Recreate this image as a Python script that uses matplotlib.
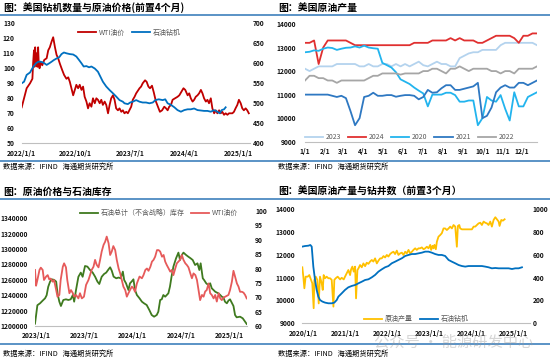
import pandas as pd
import matplotlib.pyplot as plt
from matplotlib.lines import Line2D
from matplotlib.ticker import FuncFormatter

plt.rcParams['font.family'] = ['Noto Sans CJK SC', 'DejaVu Sans']

# ---- 图1：美国钻机数量与原油价格(前置4个月)  日期 = 2022-01-01 + 天数
p1_start = '2022-01-01'
p1_wti_day = [0, 12, 25, 42, 54, 58, 62, 65, 68, 72, 76, 79, 83, 86, 90, 95, 104, 114, 126, 134,
              142, 151, 159, 168, 176, 184, 193, 204, 214, 226, 235, 243, 251, 260, 268, 276, 285,
              293, 302, 310, 318, 327, 335, 343, 352, 360, 369, 377, 385, 394, 402, 410, 419, 427,
              436, 444, 452, 461, 469, 477, 486, 494, 503, 511, 519, 528, 536, 544, 553, 561, 570,
              578, 595, 603, 611, 623, 631, 640, 648, 658, 667, 678, 688, 698, 709, 720, 729, 737,
              745, 754, 762, 774, 787, 796, 807, 817, 826, 838, 846, 854, 863, 871, 879, 888, 896,
              905, 913, 921, 930, 938, 946, 955, 963, 972, 980, 988, 997, 1005, 1013, 1022, 1030,
              1039, 1047, 1064, 1072, 1080, 1089, 1097, 1106, 1114, 1122, 1131, 1139, 1147]
p1_wti = [74, 80, 86.7, 90, 93, 104, 112, 101, 114, 103, 110, 101, 114, 104, 100, 104, 102, 105.6,
          106.7, 112, 114, 117.8, 120.7, 114, 109, 106.7, 103, 99, 95.6, 93, 94, 91, 86.7, 82, 85.6,
          89, 86.7, 89, 85.6, 87.8, 81, 77.8, 73.3, 76.7, 74.4, 80, 76.7, 80, 79, 76.7, 79, 75.6,
          77.8, 75.6, 70, 75.6, 80, 82, 79, 73.3, 72, 73.3, 71, 72, 70, 71, 70, 72, 74.4, 79, 81,
          83.3, 86.7, 87.8, 90, 92, 91, 87.8, 86.7, 88.4, 84, 77.8, 74.4, 71, 72, 74.4, 73.3, 72,
          74.4, 75.6, 79, 80, 81, 82, 84.4, 86.7, 85.6, 82, 83.3, 80, 77.8, 79, 81, 82, 83.3, 85.6,
          83.3, 80, 77.8, 79, 76.7, 80, 73.3, 70, 72, 70, 72, 70, 71, 69, 70, 69, 70, 70, 71, 73.3,
          75.6, 79, 76.7, 73.3, 72, 73.3, 72, 70]
p1_rig_day = [0, 12, 25, 42, 59, 72, 84, 95, 109, 126, 139, 151, 162, 176, 189, 201, 213, 226, 243,
              260, 276, 290, 302, 313, 327, 340, 352, 369, 385, 397, 410, 427, 444, 461, 477, 494,
              511, 519, 536, 548, 561, 578, 595, 611, 628, 645, 662, 675, 692, 712, 725, 737, 754,
              771, 787, 804, 821, 838, 854, 871, 888, 905, 921, 938, 955, 972, 988, 1000, 1010,
              1022, 1030]
p1_rig = [550, 554, 571, 577, 592, 600, 604, 604, 602, 596, 600, 604, 608, 612, 615, 623, 627, 625,
          623, 622, 617, 608, 600, 592, 593, 590, 592, 587, 579, 567, 554, 542, 533, 525, 517, 508,
          504, 500, 498, 502, 504, 508, 504, 502, 502, 500, 502, 508, 510, 508, 510, 500, 496, 490,
          483, 479, 483, 485, 485, 487, 483, 482, 481, 481, 479, 483, 479, 475, 483, 485, 490]
p1_xticks = ['2022/1/1', '2022/10/1', '2023/7/1', '2024/4/1', '2025/1/1']

# ---- 图2：美国原油产量（周度，第1-52周）
p2_years = ['2023', '2024', '2020', '2021', '2022']
prod_2023 = [12100, 12000, 12100, 12200, 12200, 12200, 12200, 12300, 12300, 12300,
             12300, 12300, 12200, 12200, 12300, 12200, 12200, 12300, 12300, 12200,
             12300, 12200, 12300, 12200, 12300, 12400, 12250, 12200, 12300, 12400,
             12300, 12300, 12200, 12200, 12550, 12650, 12750, 12800, 12800, 12900,
             12900, 12900, 12900, 13100, 13200, 13200, 13200, 13200, 13200, 13200,
             13200, 13100]
prod_2024 = [13200, 13200, 13300, 12300, 13000, 13300, 13300, 13300, 13300, 13300,
             13200, 13100, 13100, 13100, 13100, 13100, 13100, 13100, 13100, 13100,
             13100, 13100, 13100, 13100, 13200, 13200, 13200, 13200, 13300, 13300,
             13300, 13300, 13400, 13300, 13400, 13300, 13300, 13300, 13200, 13200,
             13300, 13400, 13500, 13500, 13500, 13500, 13400, 13200, 13500, 13500,
             13600, 13600]
prod_2020 = [12800, 12820, 12880, 12860, 12950, 13000, 12980, 12900, 12950, 12990,
             13000, 13050, 13000, 13080, 13000, 12970, 12950, 12350, 12250, 12150,
             11950, 11650, 11550, 11450, 11300, 11170, 11050, 10500, 11000, 11000,
             11000, 11080, 11080, 10980, 10700, 10700, 10750, 10750, 9700, 10000,
             10900, 10750, 10700, 10980, 10400, 9900, 11100, 10500, 10500, 10900,
             11000, 11100]
prod_2021 = [11000, 11000, 11000, 11000, 11000, 11000, 10950, 10900, 10950, 10850,
             10300, 9700, 10000, 10900, 10950, 11080, 10950, 10950, 10980, 10980,
             10910, 10950, 10980, 10980, 10950, 10800, 10900, 11200, 11080, 11100,
             11270, 11400, 11400, 11200, 11200, 11250, 11300, 11350, 11500, 10000,
             10100, 10450, 11100, 11300, 11400, 11300, 11300, 11500, 11500, 11400,
             11500, 11600]
prod_2022 = [11600, 11800, 11800, 11700, 11700, 11600, 11600, 11500, 11600, 11600,
             11600, 11600, 11600, 11600, 11700, 11800, 11800, 11900, 11900, 11900,
             11900, 11850, 11900, 11900, 11900, 11900, 12000, 12000, 12100, 12100,
             12000, 11900, 12100, 12100, 12200, 12100, 12000, 12100, 12100, 12100,
             12100, 12000, 12000, 11900, 12000, 12000, 11900, 12100, 12100, 12100,
             12100, 12200]
p2_xticks = ['1/1', '2/1', '3/1', '4/1', '5/1', '6/1', '7/1', '8/1', '9/1', '10/1', '11/1', '12/1']

# ---- 图3：原油价格与石油库存  日期 = 2023-01-01 + 天数
p3_start = '2023-01-01'
p3_stock_day = [-4, 5, 15, 25, 34, 40, 46, 53, 59, 68, 76, 81, 88, 94, 103, 113, 122, 131, 139, 144,
                151, 160, 169, 176, 185, 194, 204, 214, 223, 232, 239, 248, 257, 265, 274, 280,
                286, 293, 303, 312, 320, 328, 333, 340, 349, 355, 361, 368, 374, 381, 391, 400,
                408, 418, 428, 437, 446, 456, 462, 469, 475, 481, 488, 494, 500, 506, 512, 519,
                529, 538, 544, 551, 557, 567, 575, 584, 592, 601, 610, 617, 622, 630, 635, 643,
                651, 658, 664, 670, 677, 683, 689, 696, 702, 708, 714, 721, 727, 733, 740, 746,
                752, 758, 771, 781, 790, 796]
p3_stock = [1203000, 1227000, 1229500, 1233000, 1236000, 1240000, 1251000, 1257700, 1260700,
            1260000, 1257700, 1242500, 1231600, 1226000, 1233800, 1234700, 1233800, 1234700,
            1240300, 1231600, 1246800, 1264000, 1269400, 1264000, 1278000, 1277200, 1272800,
            1269400, 1264200, 1257700, 1254600, 1264000, 1267600, 1269400, 1273700, 1276300,
            1272000, 1264200, 1262000, 1263000, 1262000, 1270700, 1259800, 1255500, 1246800,
            1255500, 1257700, 1260700, 1246800, 1240300, 1236000, 1231600, 1229500, 1227300,
            1220800, 1214300, 1212100, 1214300, 1218600, 1233800, 1234700, 1240300, 1238100,
            1240300, 1242500, 1251200, 1264200, 1277200, 1288000, 1295400, 1285800, 1292300,
            1295400, 1292300, 1290200, 1288000, 1285800, 1279300, 1281500, 1272800, 1281500,
            1262000, 1259800, 1255500, 1253300, 1255500, 1249000, 1247000, 1244600, 1243500,
            1242500, 1240300, 1238100, 1237000, 1231600, 1229500, 1233000, 1234700, 1230000,
            1226000, 1214300, 1211300, 1212100, 1210000, 1205600, 1202600]
p3_wti_day = [-4, 0, 5, 13, 18, 25, 30, 38, 44, 50, 55, 63, 68, 76, 81, 88, 93, 101, 106, 113, 118,
              126, 132, 139, 144, 151, 160, 166, 173, 181, 189, 198, 204, 210, 217, 223, 229, 236,
              242, 248, 255, 261, 267, 274, 280, 286, 292, 299, 305, 312, 318, 324, 330, 337, 343,
              349, 355, 362, 368, 374, 381, 391, 400, 406, 413, 419, 425, 432, 438, 444, 450, 457,
              463, 469, 476, 482, 488, 494, 501, 507, 513, 519, 526, 532, 538, 544, 551, 557, 564,
              570, 576, 583, 589, 595, 602, 608, 614, 620, 627, 633, 639, 645, 652, 658, 664, 671,
              677, 683, 690, 696, 702, 708, 715, 721, 727, 733, 740, 746, 752, 759, 765, 771, 778,
              784, 790, 796]
p3_wti = [79.5, 74, 76, 79.5, 80.3, 79.5, 76, 77.2, 77.7, 76.2, 76.5, 75.4, 76, 72.5, 70.2, 70.8, 76,
          80.6, 81.8, 80.4, 76, 71.4, 72.5, 71.4, 70.2, 70.8, 69.6, 71.4, 69.6, 70.2, 74.3, 76, 77.7,
          79.5, 80.6, 83, 81.3, 80.4, 83, 85.9, 88.2, 89.3, 91.1, 88.8, 84.7, 85.9, 87.8, 86.4, 83,
          80, 78.3, 76, 73.7, 72.5, 70.2, 71.4, 72.5, 73.7, 73.1, 71.9, 74.8, 77.2, 76.6, 77.7, 79.5,
          80, 79.2, 80.6, 82.4, 83, 84.1, 86.4, 86.4, 85.9, 84.1, 84.7, 82.4, 81.2, 80, 78.9, 79.5,
          77.7, 80, 81.8, 82.4, 83, 84.7, 83, 81.8, 81.2, 80.4, 78.3, 76.6, 78.3, 77.7, 76, 72.5, 69,
          70.8, 70.2, 72, 72.5, 74.8, 71.4, 70.8, 69.6, 70.8, 68.5, 71.4, 69.6, 69, 69.9, 70.2, 70.5,
          70.8, 72.5, 75.4, 79.2, 77.2, 74.8, 73.7, 71.9, 71.9, 71.6, 70.8, 69.6]
p3_xticks = ['2023/1/1', '2023/7/1', '2024/1/1', '2024/7/1', '2025/1/1']

# ---- 图4：美国原油产量与钻井数（前置3个月） 日期 = 2020-01-01 + 天数
p4_start = '2020-01-01'
p4_prod_day = [-9, 0, 9, 20, 38, 52, 67, 78, 90, 96, 108, 122, 134, 145, 160, 169, 177, 189, 203,
               218, 233, 247, 262, 270, 282, 299, 320, 334, 352, 363, 378, 392, 407, 416, 427,
               439, 451, 459, 471, 480, 494, 509, 523, 538, 552, 567, 581, 596, 610, 625, 640,
               654, 669, 683, 698, 712, 727, 741, 756, 770, 785, 799, 814, 828, 843, 858, 872,
               887, 901, 916, 930, 945, 959, 974, 988, 1003, 1017, 1032, 1047, 1061, 1076, 1090,
               1105, 1113, 1125, 1134, 1142, 1154, 1163, 1177, 1192, 1206, 1221, 1235, 1250,
               1265, 1279, 1294, 1308, 1323, 1337, 1346, 1358, 1366, 1381, 1410, 1439, 1468,
               1483, 1497, 1512, 1526, 1541, 1555, 1570, 1584, 1599, 1613, 1628, 1642, 1657,
               1672, 1686, 1701, 1709, 1724, 1738, 1753]
p4_prod = [11450, 11040, 10530, 11040, 11040, 11110, 10900, 10750, 9660, 10900, 11040, 10900,
           9870, 11040, 10750, 10460, 11110, 10970, 11040, 10970, 10970, 10900, 9730, 10900,
           10970, 11040, 10920, 10990, 10920, 11040, 11190, 11330, 11110, 11360, 11480, 11260,
           11480, 10090, 11330, 11400, 11550, 11450, 11620, 11500, 11650, 11600, 11700, 11770,
           11700, 11840, 11620, 11740, 11840, 11840, 11940, 11880, 11990, 11920, 12030, 12090,
           12130, 12030, 12180, 11990, 12060, 12090, 11990, 12130, 12060, 12210, 12060, 12130,
           12210, 12280, 12210, 12280, 12280, 12320, 12240, 12280, 12350, 12280, 12430, 12210,
           12390, 12280, 12430, 12240, 12570, 12790, 12860, 12940, 13150, 13150, 13080, 13150,
           13230, 13150, 13300, 13230, 12350, 13260, 13300, 13150, 13110, 13110, 13110, 13110,
           13230, 13230, 13300, 13370, 13400, 13300, 13450, 13400, 13370, 13300, 13450, 13230,
           13520, 13640, 13550, 13450, 13260, 13520, 13490, 13550]
p4_rig_day = [-9, 15, 44, 61, 73, 87, 102, 116, 131, 145, 166, 189, 218, 247, 270, 291, 305, 334,
              363, 392, 422, 451, 480, 509, 538, 567, 596, 625, 654, 683, 712, 741, 770, 799, 828,
              858, 887, 916, 945, 974, 1003, 1032, 1061, 1090, 1119, 1148, 1177, 1206, 1235, 1265,
              1294, 1323, 1352, 1381, 1410, 1439, 1468, 1497, 1526, 1555, 1584, 1613, 1642, 1672,
              1701, 1730, 1759, 1788, 1817, 1846, 1875, 1904]
p4_rig = [671, 676, 679, 685, 671, 496, 379, 292, 233, 204, 190, 181, 175, 175, 181, 204, 233, 262,
          292, 315, 327, 335, 350, 364, 379, 385, 402, 423, 452, 472, 490, 501, 525, 539, 554, 569,
          589, 598, 606, 606, 612, 618, 627, 627, 618, 606, 598, 598, 589, 554, 539, 525, 510, 501,
          496, 501, 501, 501, 501, 501, 496, 490, 481, 484, 481, 481, 481, 481, 475, 481, 481, 490]
p4_xticks = ['2020/1/1', '2021/1/1', '2022/1/1', '2023/1/1', '2024/1/1', '2025/1/1']


def to_dates(start, days):
    return pd.Timestamp(start) + pd.to_timedelta(days, unit='D')


def style(ax, ax2=None, lpad=5, rpad=2):
    for s in ['top', 'left', 'right']:
        ax.spines[s].set_visible(False)
    ax.spines['bottom'].set_color('#BFBFBF')
    ax.spines['bottom'].set_linewidth(0.8)
    ax.tick_params(axis='both', length=0, labelsize=4.8, colors='#111111')
    ax.tick_params(axis='y', pad=lpad)
    ax.tick_params(axis='x', pad=4.5)
    for lab in ax.get_xticklabels() + ax.get_yticklabels():
        lab.set_fontweight('bold')
    if ax2 is not None:
        for s in ax2.spines.values():
            s.set_visible(False)
        ax2.tick_params(axis='y', length=0, labelsize=4.8, colors='#111111', pad=rpad)
        for lab in ax2.get_yticklabels():
            lab.set_fontweight('bold')


def legend(ax, handles, anchor, ncol):
    lg = ax.legend(handles=handles, loc='center', bbox_to_anchor=anchor, ncol=ncol,
                   frameon=False, fontsize=5, handlelength=2.6, columnspacing=1.0,
                   handletextpad=0.4, borderpad=0)
    for t in lg.get_texts():
        t.set_color('#595959')


fig = plt.figure(figsize=(5.5, 3.61), dpi=100)
W, H = 550, 361
blue_rule = '#2E75B6'

# 页面结构：标题、分隔线、数据来源
for y in [15, 161, 199, 344]:
    fig.add_artist(Line2D([0, 1], [1 - y / H] * 2, color=blue_rule, lw=1.1))
titles = [(3, 8, '图：美国钻机数量与原油价格(前置4个月)'), (278, 8, '图：美国原油产量'),
          (3, 192, '图：原油价格与石油库存'), (278, 192, '图：美国原油产量与钻井数（前置3个月）')]
for x, y, t in titles:
    fig.text(x / W, 1 - y / H, t, fontsize=7.1, weight='bold', va='center', ha='left')
for x, y in [(3, 167), (278, 167), (3, 354), (278, 354)]:
    fig.text(x / W, 1 - y / H, '数据来源：IFIND   海通期货研究所', fontsize=5.2, va='center', ha='left')

# ---- 图1
ax1 = fig.add_axes([21.7 / W, 1 - 143.3 / H, 228.3 / W, 120 / H])
ax1b = ax1.twinx()
l1, = ax1.plot(to_dates(p1_start, p1_wti_day), p1_wti, color='#C00000', lw=1.3, label='WTI油价')
l2, = ax1b.plot(to_dates(p1_start, p1_rig_day), p1_rig, color='#0070C0', lw=1.3, label='石油钻机')
ax1.set_ylim(50, 130)
ax1.set_yticks(range(50, 131, 10))
ax1b.set_ylim(400, 700)
ax1b.set_yticks(range(400, 701, 50))
ax1.set_xlim(pd.Timestamp('2022-01-01'), pd.Timestamp('2025-02-27'))
ax1.set_xticks(pd.to_datetime(p1_xticks, format='%Y/%m/%d'))
ax1.set_xticklabels(p1_xticks)
style(ax1, ax1b, lpad=5, rpad=2)
legend(ax1, [l1, l2], (0.47, 0.92), 2)

# ---- 图2
ax2 = fig.add_axes([305 / W, 1 - 141.7 / H, 232 / W, 117.7 / H])
weeks = list(range(1, 53))
p2_colors = ['#B4D3EE', '#E03030', '#22B4EE', '#2E78C2', '#A6A6A6']
p2_series = [prod_2023, prod_2024, prod_2020, prod_2021, prod_2022]
h2 = []
for yr, vals, c in zip(p2_years, p2_series, p2_colors):
    ln, = ax2.plot(weeks, vals, color=c, lw=1.3, label=yr)
    h2.append(ln)
ax2.set_ylim(9000, 14000)
ax2.set_yticks(range(9000, 14001, 1000))
ax2.set_xlim(1, 52)
month_doy = pd.to_datetime(['2021/' + t for t in p2_xticks], format='%Y/%m/%d').dayofyear
ax2.set_xticks((month_doy - 1) / 7 + 1)
ax2.set_xticklabels(p2_xticks)
style(ax2, lpad=6.5)
legend(ax2, h2, (0.45, 0.04), 5)

# ---- 图3
ax3 = fig.add_axes([35 / W, 1 - 326 / H, 211.7 / W, 115 / H])
ax3b = ax3.twinx()
l3, = ax3.plot(to_dates(p3_start, p3_stock_day), p3_stock, color='#3F7A1F', lw=1.3,
               label='石油总计（不含战略）库存')
l4, = ax3b.plot(to_dates(p3_start, p3_wti_day), p3_wti, color='#E65A5A', lw=1.3, label='WTI油价')
ax3.set_ylim(1200000, 1349500)
ax3.set_yticks(range(1200000, 1340001, 20000))
ax3.yaxis.set_major_formatter(FuncFormatter(lambda v, p: f'{v:.0f}'))
ax3b.set_ylim(60, 100)
ax3b.set_yticks(range(60, 101, 5))
ax3.set_xlim(pd.Timestamp('2022-12-28'), pd.Timestamp('2025-03-07'))
ax3.set_xticks(pd.to_datetime(p3_xticks, format='%Y/%m/%d'))
ax3.set_xticklabels(p3_xticks)
style(ax3, ax3b, lpad=5, rpad=6)
legend(ax3, [l3, l4], (0.586, 0.98), 2)

# ---- 图4
ax4 = fig.add_axes([302.3 / W, 1 - 323.3 / H, 227.7 / W, 114.3 / H])
ax4b = ax4.twinx()
l5, = ax4.plot(to_dates(p4_start, p4_prod_day), p4_prod, color='#FFC000', lw=1.3, label='原油产量')
l6, = ax4b.plot(to_dates(p4_start, p4_rig_day), p4_rig, color='#0070C0', lw=1.3, label='石油钻机')
ax4.set_ylim(9000, 14000)
ax4.set_yticks(range(9000, 14001, 1000))
ax4b.set_ylim(0, 1000)
ax4b.set_yticks(range(0, 1001, 200))
ax4.set_xlim(pd.Timestamp('2019-12-23'), pd.Timestamp('2025-05-28'))
ax4.set_xticks(pd.to_datetime(p4_xticks, format='%Y/%m/%d'))
ax4.set_xticklabels(p4_xticks)
style(ax4, ax4b, lpad=5, rpad=2)
legend(ax4, [l5, l6], (0.5, 0.035), 2)

# 水印
fig.text(374 / W, 1 - 342 / H, '公众号 · 能源研发中心', fontsize=11, color='#9A9A9A', alpha=0.4,
         va='center', ha='left')

fig.savefig('out.png', dpi=100)
